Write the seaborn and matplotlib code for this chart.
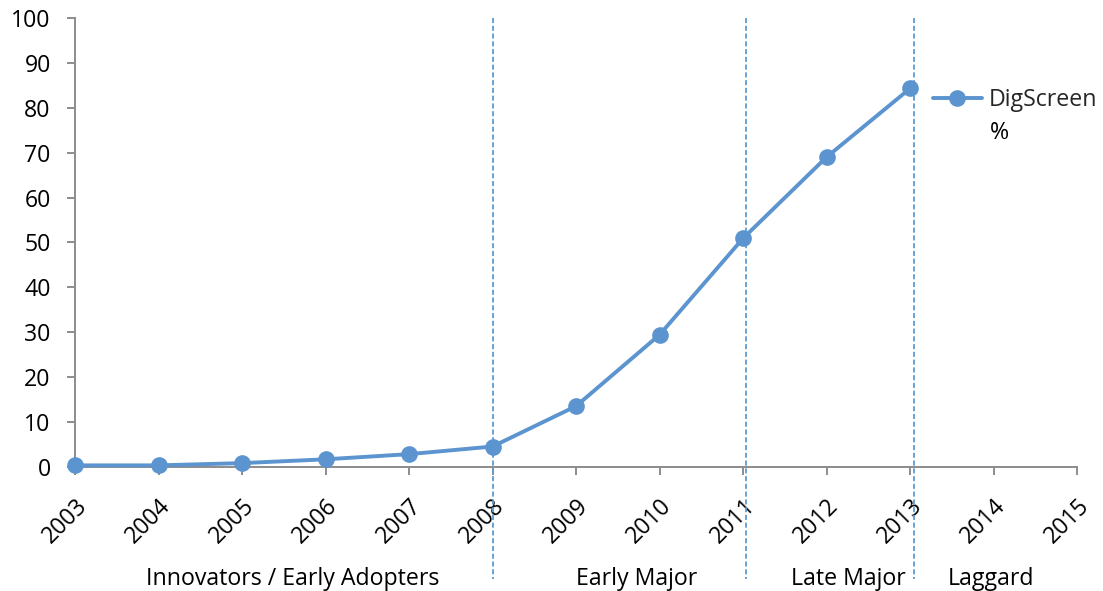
import matplotlib
matplotlib.use("Agg")
import matplotlib.pyplot as plt
import matplotlib.transforms as mtransforms
from matplotlib.lines import Line2D
import seaborn as sns
import pandas as pd

# Digital screen share by year (%)
years = [2003, 2004, 2005, 2006, 2007, 2008, 2009, 2010, 2011, 2012, 2013]
digscreen_pct = [0.3, 0.3, 0.8, 1.65, 2.8, 4.5, 13.5, 29.4, 50.9, 69.0, 84.3]

x_ticks = list(range(2003, 2016))
y_ticks = list(range(0, 101, 10))

# Adoption phase boundaries and labels
phase_bounds = [2008.01, 2011.04, 2013.05]
phase_labels = ["Innovators / Early Adopters", "Early Major", "Late Major", "Laggard"]
phase_label_x = [2005.61, 2009.73, 2012.26, 2013.97]

series_name = "DigScreen"
series_suffix = "%"

sns.set_theme(style="white")
plt.rcParams["font.family"] = ["Open Sans", "DejaVu Sans"]

blue = "#5B94CE"
dash_blue = "#5B9BD5"
axis_gray = "#8C8C8C"
fs = 16.7

df = pd.DataFrame({"Year": years, "Pct": digscreen_pct})

fig = plt.figure(figsize=(11.03, 5.91), dpi=100)
ax = fig.add_axes([0.068, 0.2103, 0.9085, 0.7592])

sns.lineplot(data=df, x="Year", y="Pct", ax=ax, color=blue, linewidth=2.8,
             marker="o", markersize=12, markeredgewidth=0, clip_on=False,
             legend=False, zorder=5)

ax.set_xlim(2003, 2015)
ax.set_ylim(0, 100)
ax.set_xticks(x_ticks)
ax.set_yticks(y_ticks)
ax.set_xticklabels([str(t) for t in x_ticks], rotation=45, ha="right",
                   rotation_mode="anchor", fontsize=fs)
ax.set_yticklabels([str(t) for t in y_ticks], fontsize=fs)
ax.set_xlabel("")
ax.set_ylabel("")

for side in ["top", "right"]:
    ax.spines[side].set_visible(False)
for side in ["left", "bottom"]:
    ax.spines[side].set_color(axis_gray)
    ax.spines[side].set_linewidth(1.4)
ax.tick_params(axis="both", which="major", bottom=True, left=True, length=5.5,
               width=1.4, color=axis_gray, direction="out", labelcolor="black")
ax.tick_params(axis="y", pad=12)
ax.tick_params(axis="x", pad=14)

# Phase boundary lines, running down through the label row
trans = mtransforms.blended_transform_factory(ax.transData, ax.transAxes)
for xb in phase_bounds:
    ax.add_line(Line2D([xb, xb], [1.0, -0.25], transform=trans, color=dash_blue,
                       linewidth=1.3, linestyle=(0, (2.8, 1.5)), clip_on=False,
                       zorder=3))

for label, xl in zip(phase_labels, phase_label_x):
    ax.text(xl, -0.25, label, transform=trans, ha="center", va="center",
            fontsize=fs, color="black")

handle = Line2D([], [], color=blue, linewidth=2.8, marker="o", markersize=12,
                markeredgewidth=0)
leg = fig.legend([handle], [series_name], loc="center left",
                 bbox_to_anchor=(933 / 1103, 1 - 100 / 591),
                 bbox_transform=fig.transFigure, frameon=False, fontsize=fs,
                 handlelength=2.1, handletextpad=0.3, borderpad=0,
                 borderaxespad=0)
fig.text(990 / 1103, 1 - 133 / 591, series_suffix, ha="left", va="center",
         fontsize=fs, color="black")

fig.savefig("out.png", dpi=100)
